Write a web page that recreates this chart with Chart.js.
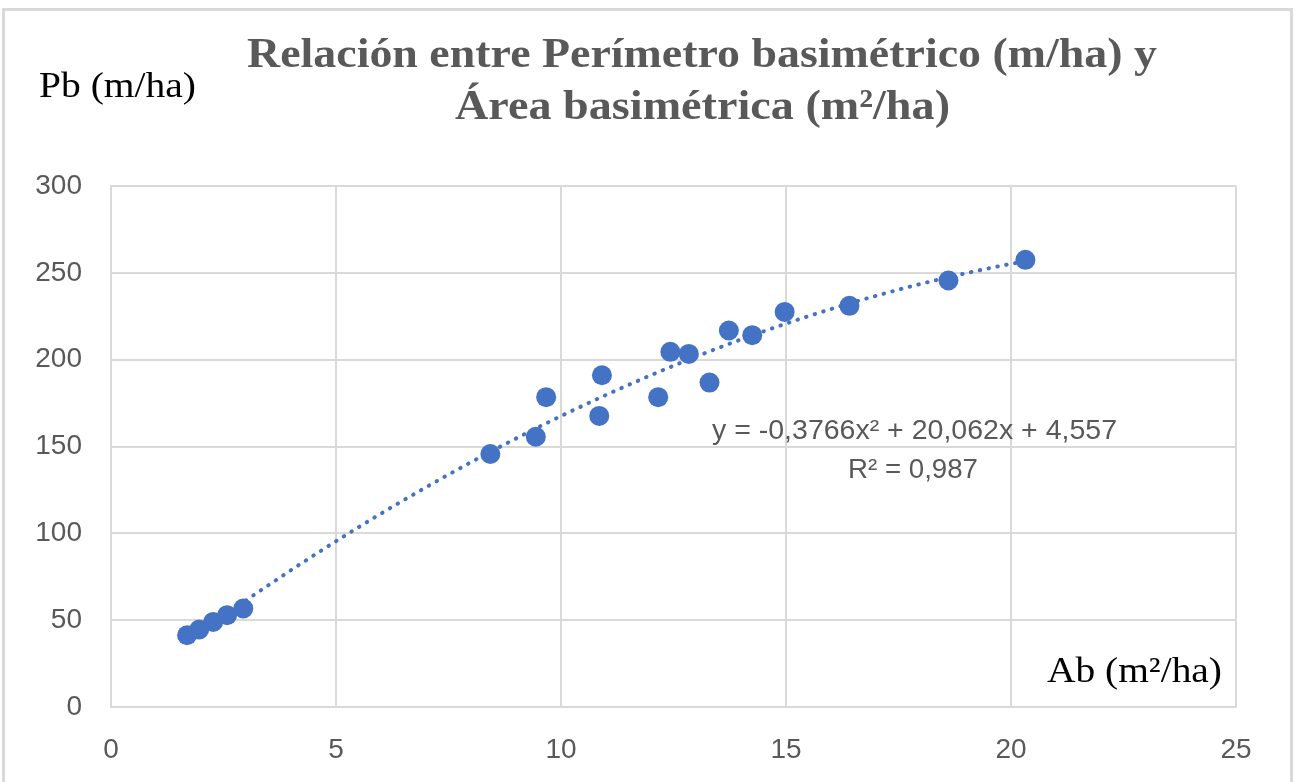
<!DOCTYPE html>
<html>
<head>
<meta charset="utf-8">
<script src="https://cdn.jsdelivr.net/npm/chart.js@4.4.1/dist/chart.umd.min.js"></script>
<style>
    html, body { margin: 0; padding: 0; background: #ffffff; }
    #wrap { width: 1296px; height: 782px; position: relative; }
</style>
</head>
<body>
<div id="wrap"><canvas id="pbChart"></canvas></div>
<script>
// Ab (m2/ha) and Pb (m/ha)
const abValues = [1.69, 1.96, 2.27, 2.58, 2.94, 8.43, 9.44, 9.67, 10.85, 10.91, 12.16, 12.43, 12.84, 13.30, 13.73, 14.25, 14.97, 16.41, 18.61, 20.32];
const pbValues = [41.3, 44.6, 49.0, 52.9, 56.7, 145.7, 155.6, 178.4, 167.6, 191.0, 178.4, 204.5, 203.3, 186.8, 216.8, 214.1, 227.5, 231.0, 245.6, 257.5];

// polynomial trendline as printed on the chart: y = a x^2 + b x + c
const trendCoef = [-0.3766, 20.062, 4.557];
const trendLabel = ['y = -0,3766x² + 20,062x + 4,557', 'R² = 0,987'];

const titleLines = ['Relación entre Perímetro basimétrico (m/ha) y', 'Área basimétrica (m²/ha)'];
const yAxisLabel = 'Pb (m/ha)';
const xAxisLabel = 'Ab (m²/ha)';

const xRange = [0, 25, 5];
const yRange = [0, 300, 50];

const blue = '#4472C4';
const gridColor = '#d9d9d9';
const textGray = '#595959';

const points = abValues.map((x, i) => ({ x: x, y: pbValues[i] }));

// sample the fitted curve over the range of the data
const trendPoints = [];
const x0 = Math.min(...abValues), x1 = Math.max(...abValues);
for (let k = 0; k <= 200; k++) {
    const x = x0 + (x1 - x0) * k / 200;
    trendPoints.push({ x: x, y: trendCoef[0] * x * x + trendCoef[1] * x + trendCoef[2] });
}

// draw text squeezed/stretched to a given width
function fitText(ctx, text, left, right, baseline, font, color) {
    ctx.save();
    ctx.font = font;
    ctx.fillStyle = color;
    ctx.textBaseline = 'alphabetic';
    ctx.textAlign = 'left';
    const w = ctx.measureText(text).width;
    ctx.translate(left, baseline);
    ctx.scale((right - left) / w, 1);
    ctx.fillText(text, 0, 0);
    ctx.restore();
}

const decorPlugin = {
    id: 'decor',
    beforeDraw(chart) {
        const ctx = chart.ctx;
        ctx.save();
        ctx.fillStyle = '#ffffff';
        ctx.fillRect(0, 0, chart.width, chart.height);
        ctx.strokeStyle = gridColor;
        ctx.lineWidth = 3;
        ctx.beginPath();
        ctx.moveTo(3.5, 790);
        ctx.lineTo(3.5, 9.5);
        ctx.lineTo(1291.5, 9.5);
        ctx.lineTo(1291.5, 790);
        ctx.stroke();
        ctx.restore();
    },
    afterDraw(chart) {
        const ctx = chart.ctx;
        const serifBold = 'bold 43px "Liberation Serif", "DejaVu Serif", serif';
        const serif = '36px "Liberation Serif", "DejaVu Serif", serif';
        const sans = '27px "Liberation Sans", "DejaVu Sans", sans-serif';
        fitText(ctx, titleLines[0], 247, 1157, 67, serifBold, textGray);
        fitText(ctx, titleLines[1], 455, 950, 119, serifBold, textGray);
        fitText(ctx, yAxisLabel, 39, 196, 97, serif, '#000000');
        fitText(ctx, xAxisLabel, 1047, 1222, 682, serif, '#000000');
        fitText(ctx, trendLabel[0], 712, 1117, 439, sans, textGray);
        fitText(ctx, trendLabel[1], 848, 978, 478, sans, textGray);
    }
};

const tickFont = { family: '"Liberation Sans", "DejaVu Sans", sans-serif', size: 28 };

new Chart(document.getElementById('pbChart'), {
    type: 'scatter',
    data: {
        datasets: [
            {
                label: 'Pb',
                data: points,
                backgroundColor: blue,
                borderWidth: 0,
                pointRadius: 10,
                pointHoverRadius: 10
            },
            {
                label: 'Tendencia',
                data: trendPoints,
                showLine: true,
                borderColor: blue,
                borderWidth: 4,
                borderDash: [0.5, 8.5],
                borderCapStyle: 'round',
                pointRadius: 0,
                tension: 0
            }
        ]
    },
    options: {
        responsive: true,
        maintainAspectRatio: false,
        animation: false,
        layout: { padding: { top: 186, right: 60, left: 0, bottom: 0 } },
        plugins: {
            legend: { display: false },
            title: { display: false },
            tooltip: { enabled: false }
        },
        scales: {
            x: {
                type: 'linear',
                min: xRange[0],
                max: xRange[1],
                afterFit: (s) => { s.height = 75; },
                ticks: { stepSize: xRange[2], color: textGray, font: tickFont, padding: 26 },
                grid: { color: gridColor, lineWidth: 2, drawTicks: false },
                border: { color: gridColor, width: 2 }
            },
            y: {
                type: 'linear',
                min: yRange[0],
                max: yRange[1],
                afterFit: (s) => { s.width = 111; },
                ticks: { stepSize: yRange[2], color: textGray, font: tickFont, padding: 29 },
                grid: { color: gridColor, lineWidth: 2, drawTicks: false },
                border: { color: gridColor, width: 2 }
            }
        }
    },
    plugins: [decorPlugin]
});
</script>
</body>
</html>
